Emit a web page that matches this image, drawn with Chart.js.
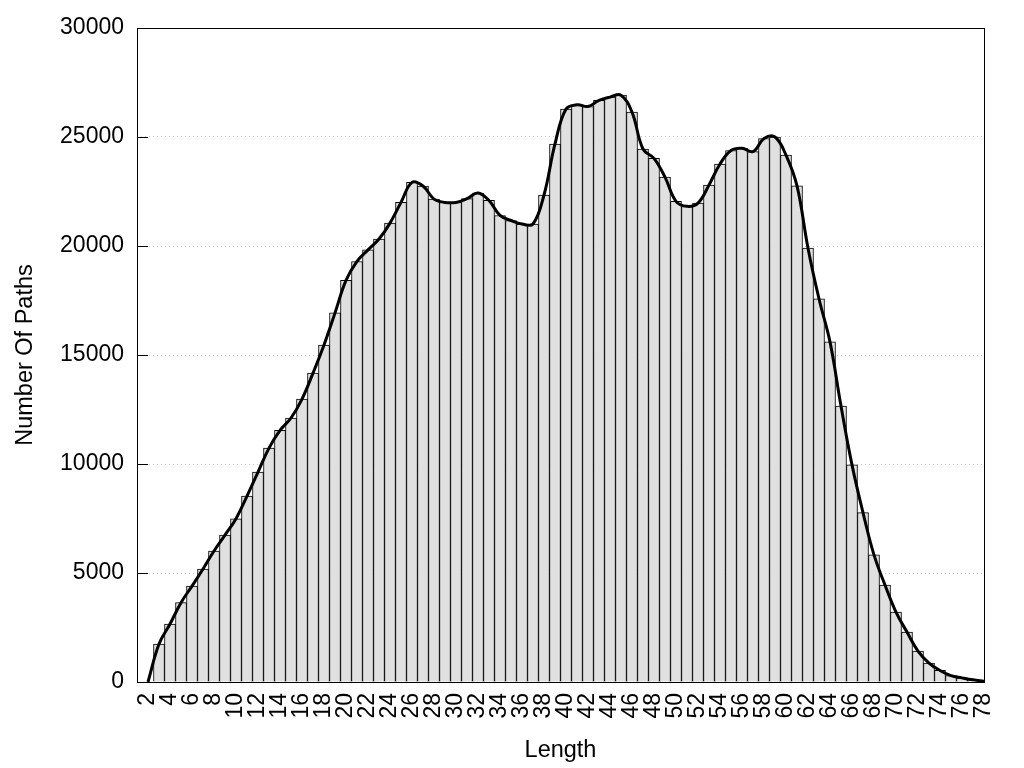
<!DOCTYPE html>
<html>
<head>
<meta charset="utf-8">
<script src="https://cdn.jsdelivr.net/npm/chart.js@4/dist/chart.umd.min.js"></script>
<style>
  html, body { margin: 0; padding: 0; background: #fff; }
  canvas { display: block; }
</style>
</head>
<body>
<canvas id="c" width="1024" height="768"></canvas>
<script>
const lengths = [2,3,4,5,6,7,8,9,10,11,12,13,14,15,16,17,18,19,20,21,22,23,24,25,26,27,28,29,30,31,32,33,34,35,36,37,38,39,40,41,42,43,44,45,46,47,48,49,50,51,52,53,54,55,56,57,58,59,60,61,62,63,64,65,66,67,68,69,70,71,72,73,74,75,76,77,78];
const pathCounts = [0,1740,2660,3640,4400,5180,6010,6740,7490,8530,9630,10730,11540,12110,12980,14170,15460,16930,18420,19290,19820,20320,21050,22000,22920,22750,22150,22000,22000,22170,22430,22090,21400,21170,21010,21010,22340,24680,26280,26480,26400,26680,26830,26920,26140,24450,24020,23160,22050,21820,21970,22800,23760,24380,24480,24330,24930,25000,24170,22760,19900,17580,15600,12660,9960,7770,5830,4450,3210,2290,1420,870,530,290,190,100,30];
const xTickLabels = [2,4,6,8,10,12,14,16,18,20,22,24,26,28,30,32,34,36,38,40,42,44,46,48,50,52,54,56,58,60,62,64,66,68,70,72,74,76,78];
const yTickLabels = [0,5000,10000,15000,20000,25000,30000];

const points = lengths.map((x, i) => ({ x: x, y: pathCounts[i] }));
const FONT = "'Liberation Sans', Arial, sans-serif";

const frame = {
  id: 'frame',
  afterDraw(chart) {
    const { ctx, chartArea: a, scales } = chart;
    ctx.save();
    ctx.strokeStyle = '#000';
    ctx.lineWidth = 1;
    ctx.beginPath();
    yTickLabels.forEach(v => {
      const py = Math.round(scales.y.getPixelForValue(v)) + 0.5;
      ctx.moveTo(a.left, py);
      ctx.lineTo(a.left + 11, py);
    });
    ctx.stroke();
    ctx.strokeRect(Math.round(a.left) + 0.5, Math.round(a.top) + 0.5,
                   Math.round(a.right - a.left), Math.round(a.bottom - a.top));
    ctx.restore();
  }
};

new Chart(document.getElementById('c'), {
  data: {
    datasets: [
      {
        type: 'line',
        data: points,
        borderColor: '#000',
        borderWidth: 3,
        pointRadius: 0,
        tension: 0.4,
        fill: false,
        order: 0
      },
      {
        type: 'bar',
        data: points,
        backgroundColor: '#e0e0e0',
        borderColor: '#000',
        borderWidth: 1,
        barPercentage: 1,
        categoryPercentage: 1,
        order: 1
      }
    ]
  },
  options: {
    responsive: false,
    animation: false,
    events: [],
    layout: { padding: { left: 11, right: 40, top: 28, bottom: 3 } },
    plugins: { legend: { display: false }, tooltip: { enabled: false } },
    scales: {
      x: {
        type: 'linear',
        offset: false,
        min: 1,
        max: 78,
        afterBuildTicks(scale) { scale.ticks = xTickLabels.map(v => ({ value: v })); },
        afterFit(scale) { scale.height = 83; },
        grid: { display: false, drawTicks: false },
        border: { display: false },
        ticks: {
          autoSkip: false,
          minRotation: 90,
          maxRotation: 90,
          padding: 11,
          color: '#000',
          font: { family: FONT, size: 23 },
          callback: v => String(v)
        },
        title: {
          display: true,
          text: 'Length',
          color: '#000',
          font: { family: FONT, size: 23.5 },
          padding: 0
        }
      },
      y: {
        type: 'linear',
        min: 0,
        max: 30000,
        afterBuildTicks(scale) { scale.ticks = yTickLabels.map(v => ({ value: v })); },
        afterFit(scale) { scale.width = 126; },
        grid: {
          color: '#c8c8c8',
          lineWidth: 1,
          drawTicks: false
        },
        border: { display: false, dash: [1, 3] },
        ticks: {
          padding: 13,
          color: '#000',
          font: { family: FONT, size: 23 },
          callback: v => String(v)
        },
        title: {
          display: true,
          text: 'Number Of Paths',
          color: '#000',
          font: { family: FONT, size: 23.5 },
          padding: 0
        }
      }
    }
  },
  plugins: [frame]
});
</script>
</body>
</html>
